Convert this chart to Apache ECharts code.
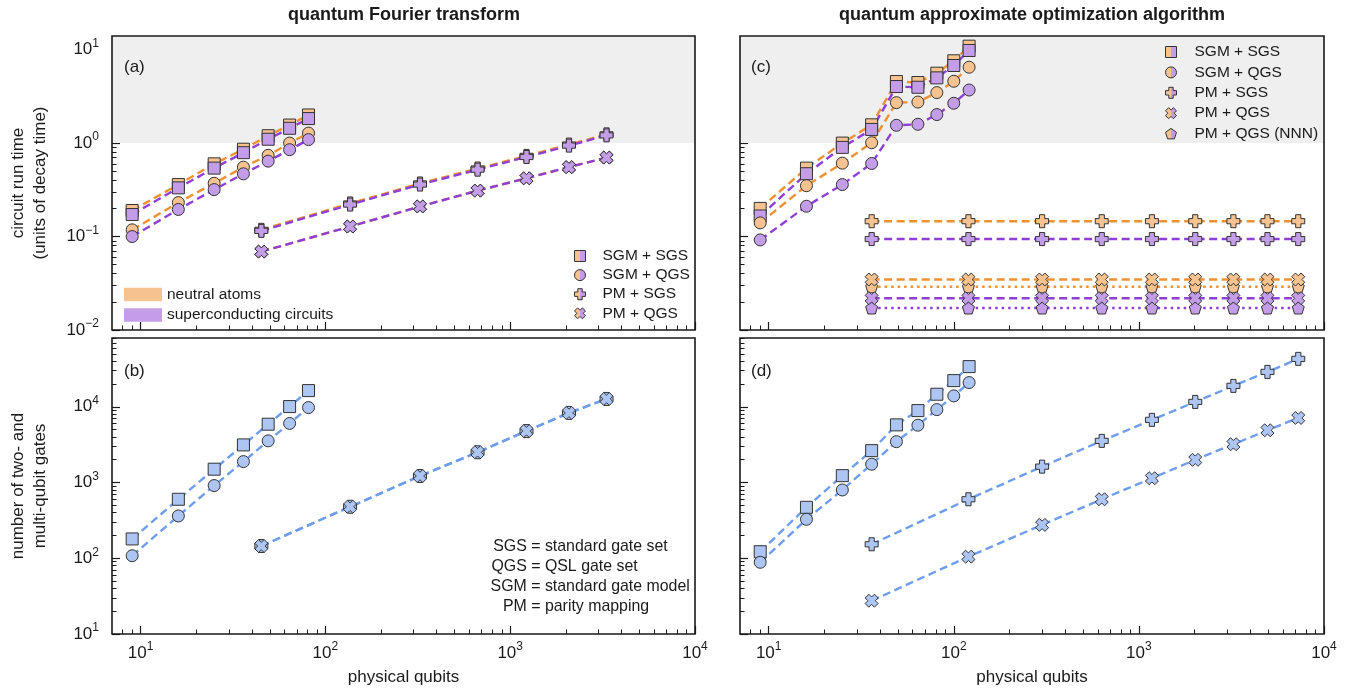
<!DOCTYPE html>
<html><head><meta charset="utf-8">
<script src="https://cdn.jsdelivr.net/npm/echarts@6/dist/echarts.min.js"></script>
<style>html,body{margin:0;padding:0;background:#fff}#c{width:1355px;height:694px}</style>
</head><body><div id="c"></div>
<script>
// ---------- data ----------
const qftSgmX = [9, 16, 25, 36, 49, 64, 81];
const qftPmX = [45, 136, 325, 666, 1225, 2080, 3321];
const qaoaSgmX = [9, 16, 25, 36, 49, 64, 81, 100, 121];
const qaoaPmX = [36, 120, 300, 630, 1176, 2016, 3240, 4950, 7260];

// (a) circuit run time, QFT
const aSgmSgsNA = [0.19, 0.36, 0.60, 0.86, 1.20, 1.56, 2.00];
const aSgmSgsSC = [0.172, 0.332, 0.54, 0.79, 1.10, 1.44, 1.83];
const aSgmQgsNA = [0.118, 0.231, 0.372, 0.553, 0.74, 1.00, 1.28];
const aSgmQgsSC = [0.100, 0.195, 0.318, 0.469, 0.641, 0.85, 1.09];
const aPmSgsNA = [0.118, 0.226, 0.370, 0.535, 0.73, 0.965, 1.24];
const aPmSgsSC = [0.115, 0.220, 0.360, 0.520, 0.71, 0.940, 1.21];
const aPmQgsNA = [0.069, 0.128, 0.21, 0.31, 0.42, 0.553, 0.70];
const aPmQgsSC = [0.069, 0.128, 0.21, 0.31, 0.42, 0.553, 0.70];

// (b) gate counts, QFT
const bSgmSgs = [180, 601, 1500, 3140, 5890, 10070, 16370];
const bSgmQgs = [108, 362, 912, 1890, 3550, 6030, 9770];
const bPmSgs = [145, 479, 1220, 2510, 4780, 8300, 12700];
const bPmQgs = [145, 479, 1220, 2510, 4780, 8300, 12700];

// (c) circuit run time, QAOA
const cSgmSgsNA = [0.20, 0.54, 1.00, 1.57, 4.56, 4.45, 5.6, 7.6, 10.9];
const cSgmSgsSC = [0.166, 0.47, 0.90, 1.40, 4.03, 3.96, 4.99, 6.77, 9.8];
const cSgmQgsNA = [0.14, 0.35, 0.61, 1.01, 2.71, 2.75, 3.47, 4.59, 6.49];
const cSgmQgsSC = [0.092, 0.211, 0.36, 0.605, 1.55, 1.59, 2.02, 2.67, 3.7];
const cPmSgsNA = [0.146, 0.146, 0.146, 0.146, 0.146, 0.146, 0.146, 0.146, 0.146];
const cPmSgsSC = [0.094, 0.094, 0.094, 0.094, 0.094, 0.094, 0.094, 0.094, 0.094];
const cPmQgsNA = [0.0347, 0.0347, 0.0347, 0.0347, 0.0347, 0.0347, 0.0347, 0.0347, 0.0347];
const cPmQgsSC = [0.0219, 0.0219, 0.0219, 0.0219, 0.0219, 0.0219, 0.0219, 0.0219, 0.0219];
const cNnnNA = [0.029, 0.029, 0.029, 0.029, 0.029, 0.029, 0.029, 0.029, 0.029];
const cNnnSC = [0.0172, 0.0172, 0.0172, 0.0172, 0.0172, 0.0172, 0.0172, 0.0172, 0.0172];

// (d) gate counts, QAOA
const dSgmSgs = [122, 471, 1233, 2636, 5770, 8910, 14660, 22170, 33950];
const dSgmQgs = [88.5, 327, 798, 1746, 3465, 5720, 9180, 13930, 20900];
const dPmSgs = [153, 601, 1622, 3550, 6720, 11600, 18900, 28900, 42950];
const dPmQgs = [27.5, 105, 276, 601, 1140, 1995, 3205, 4900, 7130];

// tick values
const xMajor = [10, 100, 1000, 10000];
const yTopMajor = [0.01, 0.1, 1, 10];
const yBotMajor = [10, 100, 1000, 10000];
function minors(decades, maxV) {
  const out = [];
  decades.forEach(d => { for (let m = 2; m <= 9; m++) { const v = +(m * d).toPrecision(6); if (v <= maxV) out.push(v); } });
  return out;
}
const xMinor = [8, 9].concat(minors([10, 100, 1000], 1e4));
const yTopMinor = minors([0.01, 0.1, 1], 14);
const yBotMinor = minors([10, 100, 1000, 10000], 81000);

const legendA = ['SGM + SGS', 'SGM + QGS', 'PM + SGS', 'PM + QGS'];
const legendC = ['SGM + SGS', 'SGM + QGS', 'PM + SGS', 'PM + QGS', 'PM + QGS (NNN)'];
const legendPlatforms = ['neutral atoms', 'superconducting circuits'];

// ---------- styles ----------
const FONT = '"Liberation Sans", Arial, Helvetica, sans-serif';
const TXT = '#1a1a1a';
const OR_LINE = '#ef9130', OR_FILL = '#f6c28f';
const PU_LINE = '#8f3fd6', PU_FILL = '#c49de9';
const BL_LINE = '#6f9ded', BL_FILL = '#adc5f3';
const SQ = 'rect', CI = 'circle';
const PLUS = 'path://M-2,-5H2V-2H5V2H2V5H-2V2H-5V-2H-2Z';
const XS = 'path://M3,-7L7,-3L4,0L7,3L3,7L0,4L-3,7L-7,3L-4,0L-7,-3L-3,-7L0,-4Z';
const PENT = 'path://M0,-5L4.76,-1.55L2.94,4.05H-2.94L-4.76,-1.55Z';
const DASH = [8, 4.5], DOT = [2.5, 4];

const grids = [
  {left: 112, top: 36, width: 583, height: 294},
  {left: 112, top: 338, width: 583, height: 296},
  {left: 740, top: 36, width: 584, height: 294},
  {left: 740, top: 338, width: 584, height: 296}
].map(g => Object.assign(g, {show: true, borderColor: TXT, borderWidth: 1.6, backgroundColor: 'transparent', z: 10}));

const rich = {
  b: {fontSize: 17, fontFamily: FONT, color: TXT, lineHeight: 24},
  s: {fontSize: 12, fontFamily: FONT, color: TXT, lineHeight: 24, verticalAlign: 'top'}
};
function powFmt(v) {
  const e = Math.round(Math.log10(v));
  return '{b|10}{s|' + (e < 0 ? '\u2212' + (-e) : e) + '}';
}
function xAxes(g, labels) {
  return [{
    type: 'log', gridIndex: g, position: 'bottom', min: 7, max: 1e4,
    axisLine: {show: false},
    axisTick: {show: true, inside: true, length: 8, customValues: xMajor, lineStyle: {color: TXT, width: 1.2}},
    axisLabel: {show: labels, customValues: xMajor, formatter: powFmt, rich: rich, margin: 7},
    splitLine: {show: false},
    name: labels ? 'physical qubits' : '', nameLocation: 'middle', nameGap: 35,
    nameTextStyle: {fontSize: 17, fontFamily: FONT, color: TXT}
  }, {
    type: 'log', gridIndex: g, position: 'bottom', min: 7, max: 1e4,
    axisLine: {show: false},
    axisTick: {show: true, inside: true, length: 4.5, customValues: xMinor, lineStyle: {color: TXT, width: 1}},
    axisLabel: {show: false}, splitLine: {show: false}
  }];
}
function yAxes(g, top, labels, name) {
  const mn = top ? 0.01 : 10, mx = top ? 14 : 81000;
  return [{
    type: 'log', gridIndex: g, position: 'left', min: mn, max: mx,
    axisLine: {show: false},
    axisTick: {show: true, inside: true, length: 8, customValues: top ? yTopMajor : yBotMajor, lineStyle: {color: TXT, width: 1.2}},
    axisLabel: {show: labels, customValues: top ? yTopMajor : yBotMajor, formatter: powFmt, rich: rich, margin: 13},
    splitLine: {show: false},
    name: name || '', nameLocation: 'middle', nameGap: 61, nameRotate: 90,
    nameTextStyle: {fontSize: 17, fontFamily: FONT, color: TXT, lineHeight: 22, align: 'center'}
  }, {
    type: 'log', gridIndex: g, position: 'left', min: mn, max: mx,
    axisLine: {show: false},
    axisTick: {show: true, inside: true, length: 4.5, customValues: top ? yTopMinor : yBotMinor, lineStyle: {color: TXT, width: 1}},
    axisLabel: {show: false}, splitLine: {show: false}
  }];
}
const xAxis = [].concat(xAxes(0, false), xAxes(1, true), xAxes(2, false), xAxes(3, true));
const yAxis = [].concat(
  yAxes(0, true, true, 'circuit run time\n(units of decay time)'),
  yAxes(1, false, true, 'number of two- and\nmulti-qubit gates'),
  yAxes(2, true, false), yAxes(3, false, false));

function mk(name, g, xs, ys, sym, fill, line, dash, size) {
  return {
    type: 'line', name: name, xAxisIndex: 2 * g, yAxisIndex: 2 * g,
    data: xs.map((x, i) => [x, ys[i]]),
    symbol: sym, symbolSize: size, showSymbol: true, z: 3,
    itemStyle: {color: fill, borderColor: '#333', borderWidth: 1},
    lineStyle: {color: line, width: 2.4, type: dash},
    emphasis: {disabled: true}, silent: true, animation: false
  };
}
function shade(g) {
  return {
    type: 'line', name: 'shade' + g, xAxisIndex: 2 * g, yAxisIndex: 2 * g, data: [], z: 1, silent: true,
    markArea: {silent: true, itemStyle: {color: '#efefef'}, label: {show: false}, data: [[{yAxis: 1}, {yAxis: 14}]]}
  };
}
const series = [
  shade(0), shade(2),
  // (a)
  mk('SGM + SGS', 0, qftSgmX, aSgmSgsNA, SQ, OR_FILL, OR_LINE, DASH, 12),
  mk('SGM + SGS', 0, qftSgmX, aSgmSgsSC, SQ, PU_FILL, PU_LINE, DASH, 12),
  mk('SGM + QGS', 0, qftSgmX, aSgmQgsNA, CI, OR_FILL, OR_LINE, DASH, 12),
  mk('SGM + QGS', 0, qftSgmX, aSgmQgsSC, CI, PU_FILL, PU_LINE, DASH, 12),
  mk('PM + SGS', 0, qftPmX, aPmSgsNA, PLUS, OR_FILL, OR_LINE, DASH, 13),
  mk('PM + SGS', 0, qftPmX, aPmSgsSC, PLUS, PU_FILL, PU_LINE, DASH, 13),
  mk('PM + QGS', 0, qftPmX, aPmQgsNA, XS, OR_FILL, OR_LINE, DASH, 13),
  mk('PM + QGS', 0, qftPmX, aPmQgsSC, XS, PU_FILL, PU_LINE, DASH, 13),
  // (b)
  mk('b1', 1, qftSgmX, bSgmSgs, SQ, BL_FILL, BL_LINE, DASH, 12),
  mk('b2', 1, qftSgmX, bSgmQgs, CI, BL_FILL, BL_LINE, DASH, 12),
  mk('b3', 1, qftPmX, bPmSgs, PLUS, BL_FILL, BL_LINE, DASH, 13),
  mk('b4', 1, qftPmX, bPmQgs, XS, BL_FILL, BL_LINE, DASH, 13),
  // (c)
  mk('SGM + SGS', 2, qaoaSgmX, cSgmSgsNA, SQ, OR_FILL, OR_LINE, DASH, 12),
  mk('SGM + SGS', 2, qaoaSgmX, cSgmSgsSC, SQ, PU_FILL, PU_LINE, DASH, 12),
  mk('SGM + QGS', 2, qaoaSgmX, cSgmQgsNA, CI, OR_FILL, OR_LINE, DASH, 12),
  mk('SGM + QGS', 2, qaoaSgmX, cSgmQgsSC, CI, PU_FILL, PU_LINE, DASH, 12),
  mk('PM + SGS', 2, qaoaPmX, cPmSgsNA, PLUS, OR_FILL, OR_LINE, DASH, 13),
  mk('PM + SGS', 2, qaoaPmX, cPmSgsSC, PLUS, PU_FILL, PU_LINE, DASH, 13),
  mk('PM + QGS (NNN)', 2, qaoaPmX, cNnnNA, PENT, OR_FILL, OR_LINE, DOT, 12),
  mk('PM + QGS', 2, qaoaPmX, cPmQgsNA, XS, OR_FILL, OR_LINE, DASH, 13),
  mk('PM + QGS (NNN)', 2, qaoaPmX, cNnnSC, PENT, PU_FILL, PU_LINE, DOT, 12),
  mk('PM + QGS', 2, qaoaPmX, cPmQgsSC, XS, PU_FILL, PU_LINE, DASH, 13),
  // (d)
  mk('d1', 3, qaoaSgmX, dSgmSgs, SQ, BL_FILL, BL_LINE, DASH, 12),
  mk('d2', 3, qaoaSgmX, dSgmQgs, CI, BL_FILL, BL_LINE, DASH, 12),
  mk('d3', 3, qaoaPmX, dPmSgs, PLUS, BL_FILL, BL_LINE, DASH, 13),
  mk('d4', 3, qaoaPmX, dPmQgs, XS, BL_FILL, BL_LINE, DASH, 13),
  // legend-only entries for the platforms
  {type: 'line', name: 'neutral atoms', xAxisIndex: 0, yAxisIndex: 0, data: [], itemStyle: {color: OR_FILL}},
  {type: 'line', name: 'superconducting circuits', xAxisIndex: 0, yAxisIndex: 0, data: [], itemStyle: {color: PU_FILL}}
];

const half = {type: 'linear', x: 0, y: 0, x2: 1, y2: 0, colorStops: [
  {offset: 0, color: OR_FILL}, {offset: 0.5, color: OR_FILL}, {offset: 0.5, color: PU_FILL}, {offset: 1, color: PU_FILL}]};
const iconOf = {'SGM + SGS': 'rect', 'SGM + QGS': 'circle', 'PM + SGS': PLUS, 'PM + QGS': XS, 'PM + QGS (NNN)': PENT};
function legItems(names) {
  return names.map(n => ({name: n, icon: iconOf[n], itemStyle: {color: half, borderColor: '#333', borderWidth: 1}}));
}
const legText = {fontSize: 15.5, fontFamily: FONT, color: TXT, lineHeight: 14};
const legend = [
  {data: legItems(legendA), orient: 'vertical', left: 574, top: 248, padding: 0, itemWidth: 11, itemHeight: 11, itemGap: 3.1,
   selectedMode: false, textStyle: Object.assign({padding: [0, 0, 0, 12]}, legText)},
  {data: legItems(legendC), orient: 'vertical', left: 1165, top: 44, padding: 0, itemWidth: 11, itemHeight: 11, itemGap: 4.4,
   selectedMode: false, textStyle: Object.assign({padding: [0, 0, 0, 13]}, legText)},
  {data: [
    {name: legendPlatforms[0], icon: 'rect', itemStyle: {color: OR_FILL, borderWidth: 0}},
    {name: legendPlatforms[1], icon: 'rect', itemStyle: {color: PU_FILL, borderWidth: 0}}],
   orient: 'vertical', left: 124, top: 286.5, padding: 0, itemWidth: 38, itemHeight: 13.5, itemGap: 4.4,
   selectedMode: false, textStyle: legText}
];

function txt(x, y, s, font, align) {
  return {type: 'text', x: x, y: y, silent: true, z: 20,
    style: {text: s, font: font, fill: TXT, textAlign: align || 'left', textVerticalAlign: 'middle'}};
}
const noteL = ['SGS =', 'QGS =', 'SGM =', 'PM ='];
const noteR = [' standard gate set', ' QSL gate set', ' standard gate model', ' parity mapping'];
const NOTEF = '15.9px ' + FONT;
const graphic = [
  txt(404, 15, 'quantum Fourier transform', 'bold 18px ' + FONT, 'center'),
  txt(1032, 15, 'quantum approximate optimization algorithm', 'bold 18px ' + FONT, 'center'),
  txt(124, 67, '(a)', '17px ' + FONT),
  txt(124, 371, '(b)', '17px ' + FONT),
  txt(751, 67, '(c)', '17px ' + FONT),
  txt(751, 371, '(d)', '17px ' + FONT)
];
noteL.forEach((s, i) => {
  graphic.push(txt(540.5, 546.7 + 19.9 * i, s, NOTEF, 'right'));
  graphic.push(txt(540.5, 546.7 + 19.9 * i, noteR[i], NOTEF, 'left'));
});

const chart = echarts.init(document.getElementById('c'), null, {renderer: 'canvas'});
chart.setOption({
  animation: false,
  backgroundColor: '#ffffff',
  grid: grids, xAxis: xAxis, yAxis: yAxis, series: series, legend: legend, graphic: graphic
});
</script></body></html>
